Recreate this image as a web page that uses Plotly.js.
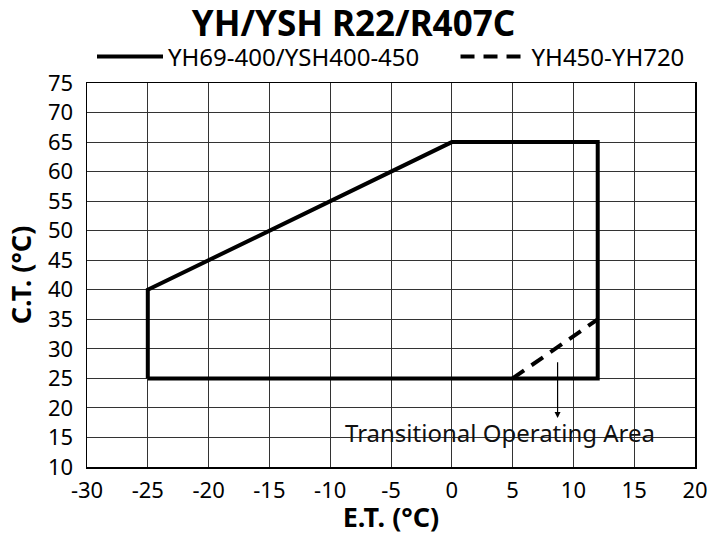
<!DOCTYPE html>
<html><head><meta charset="utf-8">
<script src="https://cdn.plot.ly/plotly-3.0.1.min.js"></script>
<style>html,body{margin:0;padding:0;background:#fff}#c{width:707px;height:535px}</style>
</head><body><div id="c"></div>
<script>
const solidName = "YH69-400/YSH400-450";
const dashName = "YH450-YH720";
const solidX = [-25, -25, 0, 12, 12, -25];
const solidY = [25, 40, 65, 65, 25, 25];
const dashX = [5, 12];
const dashY = [25, 35];
const xTicks = [-30, -25, -20, -15, -10, -5, 0, 5, 10, 15, 20];
const yTicks = [10, 15, 20, 25, 30, 35, 40, 45, 50, 55, 60, 65, 70, 75];
const noteText = "Transitional Operating Area";
const noteX = 4, noteY = 15.8;
const arrowFrom = [8.7, 28];
const arrowTo = [8.7, 18.3];

const font = "Noto Sans, Open Sans, sans-serif";
const pad = "\u00A0".repeat(5);
const data = [
  {x: solidX, y: solidY, mode: "lines", name: solidName + pad, line: {color: "#000", width: 4}},
  {x: dashX, y: dashY, mode: "lines", name: dashName, line: {color: "#000", width: 4, dash: "14px,9px"}}
];
const layout = {
  width: 707, height: 535,
  margin: {l: 87, r: 12, t: 83, b: 68},
  paper_bgcolor: "#fff", plot_bgcolor: "#fff",
  font: {family: font, color: "#000", size: 22},
  title: {text: "<b>YH/YSH R22/R407C</b>", x: 0.5, xanchor: "center", y: 0.956, yanchor: "middle", font: {size: 35, family: font}},
  showlegend: true,
  legend: {orientation: "h", x: 0.5, xanchor: "center", y: 1.068, yanchor: "middle", font: {size: 24}, itemwidth: 66, traceorder: "normal", bgcolor: "rgba(0,0,0,0)"},
  xaxis: {range: [-30, 20], tickvals: xTicks, ticktext: xTicks.map(String), showgrid: true, gridcolor: "#333", gridwidth: 1,
    zeroline: false, showline: true, linecolor: "#000", linewidth: 1.5, mirror: true, ticks: "", ticklen: 0, ticklabelstandoff: 3, ticklabeloverflow: "allow",
    title: {text: "<b>E.T. (°C)</b>", font: {size: 27}, standoff: 0}, tickfont: {size: 22}},
  yaxis: {range: [10, 75], tickvals: yTicks, ticktext: yTicks.map(String), showgrid: true, gridcolor: "#333", gridwidth: 1,
    zeroline: false, showline: true, linecolor: "#000", linewidth: 1.5, mirror: true, ticks: "", ticklabelstandoff: 8, ticklabeloverflow: "allow",
    title: {text: "<b>C.T. (°C)</b>", font: {size: 27}, standoff: 8}, tickfont: {size: 22}},
  annotations: [
    {x: noteX, y: noteY, text: noteText, showarrow: false, font: {size: 24, color: "#111"}, xanchor: "center", yanchor: "middle"},
    {x: arrowTo[0], y: arrowTo[1], ax: arrowFrom[0], ay: arrowFrom[1], axref: "x", ayref: "y", xref: "x", yref: "y", text: "", showarrow: true, arrowhead: 2, arrowsize: 1, arrowwidth: 1.2, arrowcolor: "#000"}
  ]
};
Plotly.newPlot("c", data, layout, {displayModeBar: false, staticPlot: true});
</script></body></html>
